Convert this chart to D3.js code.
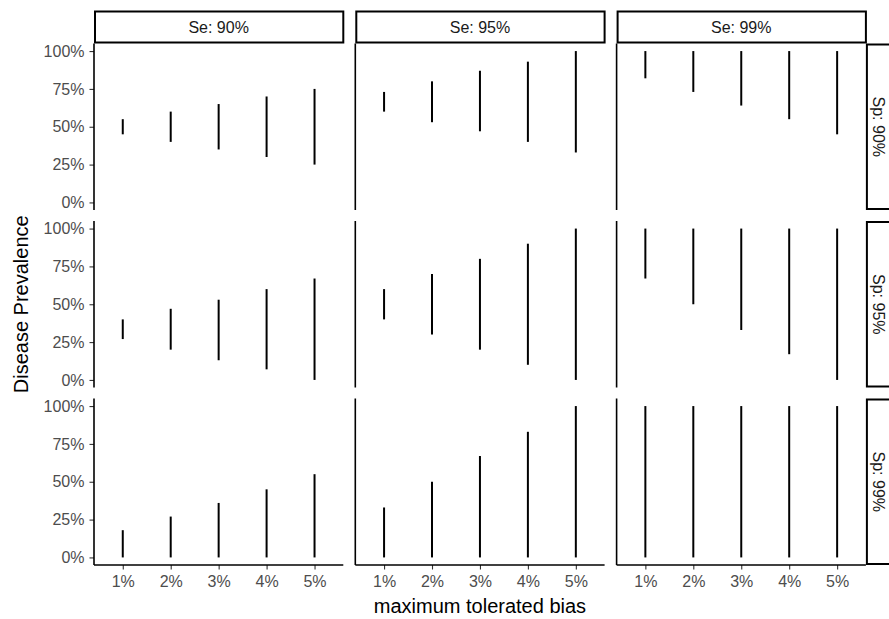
<!DOCTYPE html>
<html>
<head>
<meta charset="utf-8">
<script src="https://cdn.jsdelivr.net/npm/d3@7"></script>
<style>
  body { margin: 0; background: #fff; }
  text { font-family: "Liberation Sans", Arial, sans-serif; }
</style>
</head>
<body>
<div id="chart"></div>
<script>
var svgWidth = 889;
var svgHeight = 619;

// facet labels and x categories
var biasLevels = ["1%", "2%", "3%", "4%", "5%"];
var seLabels = ["Se: 90%", "Se: 95%", "Se: 99%"];
var spLabels = ["Sp: 90%", "Sp: 95%", "Sp: 99%"];
var yTicks = [0, 0.25, 0.5, 0.75, 1];

// prevalence ranges, one row per Sp, [Se90, Se95, Se99]
var lowerSp90 = [[0.45, 0.40, 0.35, 0.30, 0.25], [0.60, 0.53, 0.47, 0.40, 0.33], [0.82, 0.73, 0.64, 0.55, 0.45]];
var upperSp90 = [[0.55, 0.60, 0.65, 0.70, 0.75], [0.73, 0.80, 0.87, 0.93, 1.00], [1.00, 1.00, 1.00, 1.00, 1.00]];
var lowerSp95 = [[0.27, 0.20, 0.13, 0.07, 0.00], [0.40, 0.30, 0.20, 0.10, 0.00], [0.67, 0.50, 0.33, 0.17, 0.00]];
var upperSp95 = [[0.40, 0.47, 0.53, 0.60, 0.67], [0.60, 0.70, 0.80, 0.90, 1.00], [1.00, 1.00, 1.00, 1.00, 1.00]];
var lowerSp99 = [[0.00, 0.00, 0.00, 0.00, 0.00], [0.00, 0.00, 0.00, 0.00, 0.00], [0.00, 0.00, 0.00, 0.00, 0.00]];
var upperSp99 = [[0.18, 0.27, 0.36, 0.45, 0.55], [0.33, 0.50, 0.67, 0.83, 1.00], [1.00, 1.00, 1.00, 1.00, 1.00]];

var lowerAll = [lowerSp90, lowerSp95, lowerSp99];
var upperAll = [upperSp90, upperSp95, upperSp99];

// panel layout
var panelLeft = 94, panelTop = 43.5, panelW = 249.3, panelH = 166.5, gapX = 12, gapY = 11;
var stripH = 33, stripW = 23;

var svg = d3.select("#chart").append("svg")
  .attr("width", svgWidth)
  .attr("height", svgHeight);

var xScale = d3.scalePoint()
  .domain(biasLevels)
  .range([0, panelW])
  .padding(0.6);

var yScale = d3.scaleLinear()
  .domain([-0.05, 1.05])
  .range([panelH, 0]);

var textCol = "#4d4d4d";
var font = "Liberation Sans, Arial, sans-serif";

seLabels.forEach(function(se, c) {
  var px = panelLeft + c * (panelW + gapX);

  // top strip
  svg.append("rect")
    .attr("x", px + 1).attr("y", panelTop - stripH + 1)
    .attr("width", panelW - 1).attr("height", stripH - 2)
    .attr("fill", "#fff").attr("stroke", "#000").attr("stroke-width", 2);
  svg.append("text")
    .attr("x", px + panelW / 2).attr("y", panelTop - stripH / 2)
    .attr("text-anchor", "middle").attr("dominant-baseline", "central")
    .attr("font-size", "16px").attr("fill", "#1a1a1a")
    .text(se);

  spLabels.forEach(function(sp, r) {
    var py = panelTop + r * (panelH + gapY);
    var g = svg.append("g").attr("transform", `translate(${px}, ${py})`);

    var rows = biasLevels.map(function(b, i) {
      return { b: b, lo: lowerAll[r][c][i], hi: upperAll[r][c][i] };
    });

    g.selectAll(".seg")
      .data(rows)
      .enter()
      .append("line")
      .attr("x1", d => xScale(d.b))
      .attr("x2", d => xScale(d.b))
      .attr("y1", d => yScale(d.lo))
      .attr("y2", d => yScale(d.hi))
      .attr("stroke", "#000")
      .attr("stroke-width", 2);

    // left axis on first column
    if (c === 0) {
      var ya = g.append("g")
        .call(d3.axisLeft(yScale).tickValues(yTicks).tickFormat(d3.format(".0%")).tickSize(4.5).tickPadding(5));
      ya.select(".domain").remove();
      ya.selectAll("line").attr("stroke", "#333").attr("stroke-width", 1.1);
      ya.selectAll("text").attr("fill", textCol).attr("font-size", "16px").attr("font-family", font);
    }
    // axis lines (theme_classic)
    g.append("line")
      .attr("x1", 0).attr("x2", 0).attr("y1", 0).attr("y2", panelH)
      .attr("stroke", "#000").attr("stroke-width", 1.6);

    // bottom axis on last row
    if (r === spLabels.length - 1) {
      var xa = g.append("g")
        .attr("transform", `translate(0, ${panelH})`)
        .call(d3.axisBottom(xScale).tickSize(4.5).tickPadding(6));
      xa.select(".domain").remove();
      xa.selectAll("line").attr("stroke", "#333").attr("stroke-width", 1.1);
      xa.selectAll("text").attr("fill", textCol).attr("font-size", "16px").attr("font-family", font);
      g.append("line")
        .attr("x1", 0).attr("x2", panelW).attr("y1", panelH).attr("y2", panelH)
        .attr("stroke", "#000").attr("stroke-width", 1.6);
    }

    // right strip on last column
    if (c === seLabels.length - 1) {
      svg.append("rect")
        .attr("x", px + panelW + 1).attr("y", py + 1)
        .attr("width", stripW + 10).attr("height", panelH - 2)
        .attr("fill", "#fff").attr("stroke", "#000").attr("stroke-width", 2);
      svg.append("text")
        .attr("transform", `translate(${px + panelW + 12.5}, ${py + panelH / 2}) rotate(90)`)
        .attr("text-anchor", "middle").attr("dominant-baseline", "central")
        .attr("font-size", "16px").attr("fill", "#1a1a1a")
        .text(sp);
    }
  });
});

// axis titles
svg.append("text")
  .attr("x", panelLeft + (3 * panelW + 2 * gapX) / 2)
  .attr("y", 613)
  .attr("text-anchor", "middle")
  .attr("font-size", "20px").attr("fill", "#000")
  .text("maximum tolerated bias");

svg.append("text")
  .attr("transform", `translate(28, ${panelTop + (3 * panelH + 2 * gapY) / 2}) rotate(-90)`)
  .attr("text-anchor", "middle")
  .attr("font-size", "20px").attr("fill", "#000")
  .text("Disease Prevalence");
</script>
</body>
</html>
